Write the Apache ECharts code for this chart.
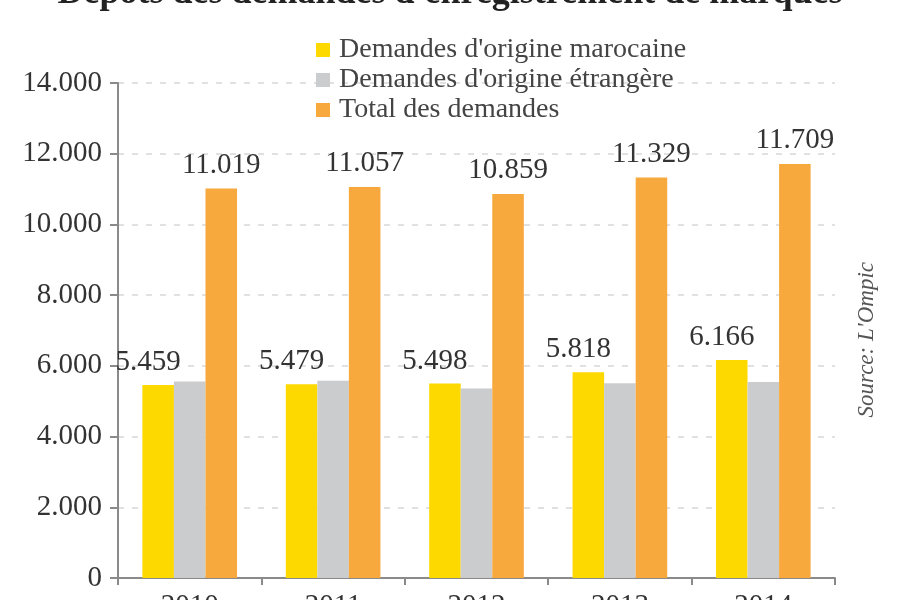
<!DOCTYPE html>
<html>
<head>
<meta charset="utf-8">
<script src="https://cdn.jsdelivr.net/npm/echarts@6/dist/echarts.min.js"></script>
<style>
  html, body { margin: 0; padding: 0; background: #fff; }
  #chart { width: 900px; height: 600px; }
</style>
</head>
<body>
<div id="chart"></div>
<script>
  // données (OMPIC)
  const years = ['2010', '2011', '2012', '2013', '2014'];
  const marocaine = [5459, 5479, 5498, 5818, 6166];
  const etrangere = [5560, 5578, 5361, 5511, 5543];
  const total = [11019, 11057, 10859, 11329, 11709];
  const yTicks = [0, 2000, 4000, 6000, 8000, 10000, 12000, 14000];

  const serif = '"Liberation Serif", "DejaVu Serif", serif';

  function fmt(v) {
    // 11019 -> 11.019
    return String(v).replace(/\B(?=(\d{3})+(?!\d))/g, '.');
  }

  let chart = echarts.init(document.getElementById('chart'));
  let option = {
    animation: false,
    backgroundColor: '#fff',
    title: {
      text: "Dépôts des demandes d'enregistrement de marques",
      left: 'center',
      top: -29,
      textStyle: { fontFamily: serif, fontSize: 36, fontWeight: 'bold', color: '#222' }
    },
    legend: {
      orient: 'vertical',
      left: 311,
      top: 31,
      itemWidth: 14,
      itemHeight: 14,
      itemGap: 2,
      icon: 'rect',
      textStyle: { fontFamily: serif, fontSize: 28, color: '#444', padding: [0, 0, 0, 4] },
      data: ["Demandes d'origine marocaine", "Demandes d'origine étrangère", 'Total des demandes']
    },
    grid: { left: 118, right: 65, top: 83, bottom: 22, outerBoundsMode: 'none', containLabel: false },
    xAxis: {
      type: 'category',
      data: years,
      axisLine: { lineStyle: { color: '#8a8a8a', width: 2 } },
      axisTick: { show: true, length: 7, lineStyle: { color: '#8a8a8a', width: 2 } },
      axisLabel: { fontFamily: serif, fontSize: 29, color: '#333', margin: 14 }
    },
    yAxis: {
      type: 'value',
      min: yTicks[0],
      max: yTicks[yTicks.length - 1],
      interval: 2000,
      axisLine: { show: true, lineStyle: { color: '#8a8a8a', width: 2 } },
      axisTick: { show: true, length: 8, lineStyle: { color: '#8a8a8a', width: 2 } },
      axisLabel: { fontFamily: serif, fontSize: 29, color: '#333', margin: 16, formatter: fmt },
      splitLine: { show: true, lineStyle: { color: '#d8d8d8', type: [6, 8], width: 1.5 } }
    },
    graphic: [{
      type: 'text',
      left: 855,
      top: 262,
      rotation: Math.PI / 2,
      style: {
        text: "Source: L'Ompic",
        font: 'italic 23px ' + serif,
        fill: '#555'
      }
    }],
    series: [{
      name: "Demandes d'origine marocaine",
      type: 'bar',
      data: marocaine,
      barGap: '0%',
      barCategoryGap: '34%',
      itemStyle: { color: '#FDD900' },
      label: {
        show: true,
        position: 'top',
        distance: 8,
        offset: [-10, 0],
        fontFamily: serif,
        fontSize: 29,
        color: '#333',
        formatter: p => fmt(p.value)
      }
    }, {
      name: "Demandes d'origine étrangère",
      type: 'bar',
      data: etrangere,
      itemStyle: { color: '#CBCCCE' }
    }, {
      name: 'Total des demandes',
      type: 'bar',
      data: total,
      itemStyle: { color: '#F8A93D' },
      label: {
        show: true,
        position: 'top',
        distance: 9,
        fontFamily: serif,
        fontSize: 29,
        color: '#333',
        formatter: p => fmt(p.value)
      }
    }]
  };
  chart.setOption(option);
</script>
</body>
</html>
